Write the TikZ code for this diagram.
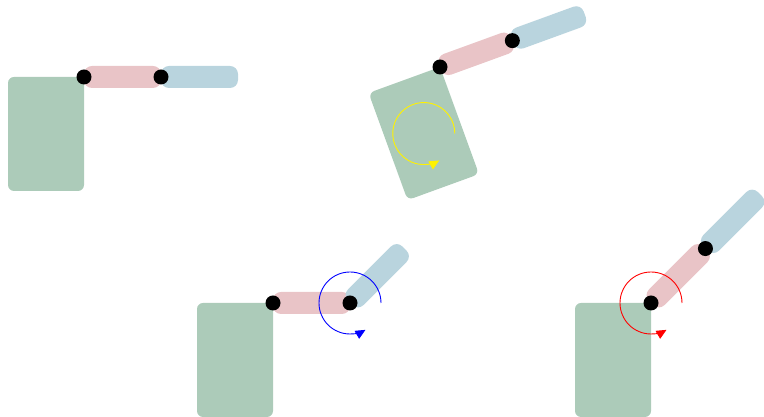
\documentclass[tikz,border=0pt]{standalone}
\usetikzlibrary{arrows.meta,calc}
\definecolor{basegreen}{RGB}{172,203,185}
\definecolor{linkpink}{RGB}{233,196,199}
\definecolor{linkblue}{RGB}{185,212,222}
\tikzset{
 basebox/.style={fill=basegreen, rounded corners=6pt},
 pinklink/.style={fill=linkpink, rounded corners=8pt},
 bluelink/.style={fill=linkblue, rounded corners=8pt},
 jointdot/.style={circle, fill=black, inner sep=0pt, minimum size=15pt},
 rotarrow/.style={line width=0.9pt, -{Triangle[length=10pt,width=9pt]}},
}
\begin{document}
\begin{tikzpicture}[x=1pt,y=1pt]
\useasboundingbox (0,0) rectangle (764,417);
% ---------- A: top left
\begin{scope}[shift={(84,340)}]
  \fill[basebox] (-76,-114) rectangle (0,0);
  \fill[pinklink] (0,-11) rectangle (77,11);
  \coordinate (a1) at (0,0);
  \coordinate (a2) at (77,0);
\end{scope}
\begin{scope}[shift={(a2)}]
  \fill[bluelink] (0,-11) rectangle (77,11);
\end{scope}
\node[jointdot] (aj1) at (a1) {};
\node[jointdot] (aj2) at (a2) {};
% ---------- B: top right, rotated base
\begin{scope}[shift={(440,350)}, rotate=20]
  \fill[basebox] (-76,-114) rectangle (0,0);
  \fill[pinklink] (0,-11) rectangle (77,11);
  \coordinate (b1) at (0,0);
  \coordinate (b2) at (77,0);
  \coordinate (bc) at (-38,-57);
\end{scope}
\begin{scope}[shift={(b2)}, rotate=20]
  \fill[bluelink] (0,-11) rectangle (77,11);
\end{scope}
\node[jointdot] (bj1) at (b1) {};
\node[jointdot] (bj2) at (b2) {};
\draw[rotarrow, yellow] ([shift={(0:31pt)}]bc) arc[start angle=0, end angle=300, radius=31pt];
% ---------- C: bottom left, second joint rotated
\begin{scope}[shift={(273,114)}]
  \fill[basebox] (-76,-114) rectangle (0,0);
  \fill[pinklink] (0,-11) rectangle (77,11);
  \coordinate (c1) at (0,0);
  \coordinate (c2) at (77,0);
\end{scope}
\begin{scope}[shift={(c2)}, rotate=45]
  \fill[bluelink] (0,-11) rectangle (77,11);
\end{scope}
\node[jointdot] (cj1) at (c1) {};
\node[jointdot] (cj2) at (c2) {};
\draw[rotarrow, blue] ([shift={(0:31pt)}]c2) arc[start angle=0, end angle=300, radius=31pt];
% ---------- D: bottom right, first joint rotated
\begin{scope}[shift={(651,114)}]
  \fill[basebox] (-76,-114) rectangle (0,0);
  \coordinate (d1) at (0,0);
\end{scope}
\begin{scope}[shift={(d1)}, rotate=45]
  \fill[pinklink] (0,-11) rectangle (77,11);
  \coordinate (d2) at (77,0);
\end{scope}
\begin{scope}[shift={(d2)}, rotate=45]
  \fill[bluelink] (0,-11) rectangle (77,11);
\end{scope}
\node[jointdot] (dj1) at (d1) {};
\node[jointdot] (dj2) at (d2) {};
\draw[rotarrow, red] ([shift={(0:31pt)}]d1) arc[start angle=0, end angle=300, radius=31pt];
\end{tikzpicture}
\end{document}
